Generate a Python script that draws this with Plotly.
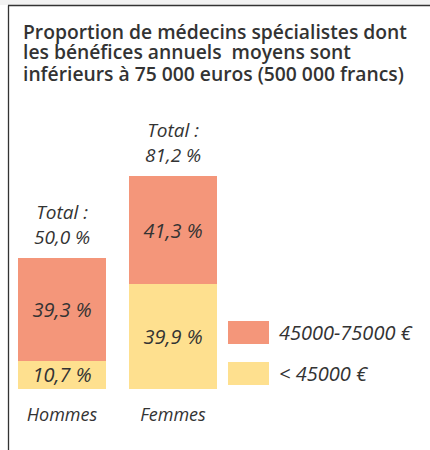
import plotly.graph_objects as go

categories = ["Hommes", "Femmes"]
series_names = ["< 45000 €", "45000-75000 €"]
low_values = [10.7, 39.9]
mid_values = [39.3, 41.3]
totals = [50.0, 81.2]
colors = ["#FEE08F", "#F4967A"]
title_lines = [
    "Proportion de médecins spécialistes dont",
    "les bénéfices annuels  moyens sont",
    "inférieurs à 75 000 euros (500 000 francs)",
]

W, H = 430, 450
FONT = "Open Sans"
TXT = "#333333"

def fr(v):
    return f"{v:.1f}".replace(".", ",") + " %"

fig = go.Figure()
for name, vals, col in zip(series_names, [low_values, mid_values], colors):
    fig.add_trace(go.Bar(
        x=categories, y=vals, name=name, marker=dict(color=col, line=dict(width=0)),
        width=0.79, text=[fr(v) for v in vals], textposition="inside",
        insidetextanchor="middle", textangle=0, constraintext="none",
        textfont=dict(family=FONT, size=20, color=TXT, style="italic"),
        showlegend=False, hoverinfo="skip",
    ))

annotations = []
for c, t in zip(categories, totals):
    annotations.append(dict(
        x=c, y=t, xref="x", yref="y", text="Total :<br>" + fr(t),
        showarrow=False, yanchor="bottom", yshift=6,
        font=dict(family=FONT, size=19, color=TXT, style="italic"),
    ))

for i, line in enumerate(title_lines):
    annotations.append(dict(
        x=21 / W, y=1 - (31 + 21 * i) / H, xref="paper", yref="paper", text=line,
        showarrow=False, xanchor="left", yanchor="middle",
        font=dict(family=FONT, size=19.3, color=TXT, weight=600),
    ))

shapes = [
    dict(type="rect", xref="paper", yref="paper", x0=0, x1=1, y0=1 - 5 / H, y1=1,
         fillcolor="#f2f2f2", line=dict(width=0), layer="below"),
    dict(type="line", xref="paper", yref="paper", x0=8 / W, x1=1, y0=1 - 5.5 / H, y1=1 - 5.5 / H,
         line=dict(color="#333333", width=1.3)),
    dict(type="line", xref="paper", yref="paper", x0=8.5 / W, x1=8.5 / W, y0=0, y1=1 - 5.5 / H,
         line=dict(color="#333333", width=1.3)),
]

# legend (top item = upper segment)
leg_items = list(zip(series_names, colors))[::-1]
leg_tops = [321, 362]
for (name, col), top in zip(leg_items, leg_tops):
    shapes.append(dict(type="rect", xref="paper", yref="paper",
                       x0=228 / W, x1=269 / W, y0=1 - (top + 23) / H, y1=1 - top / H,
                       fillcolor=col, line=dict(width=0)))
    annotations.append(dict(
        x=277 / W, y=1 - (top + 11.5) / H, xref="paper", yref="paper", text=name,
        showarrow=False, xanchor="left", yanchor="middle",
        font=dict(family=FONT, size=20, color=TXT, style="italic"),
    ))

base_px = 389
scale = 2.62
fig.update_layout(
    width=W, height=H, barmode="stack",
    margin=dict(l=0, r=0, t=0, b=0, autoexpand=False),
    paper_bgcolor="white", plot_bgcolor="white",
    showlegend=False,
    xaxis=dict(domain=[6.5 / W, 228.5 / W], range=[-0.5, 1.5], showgrid=False, zeroline=False,
               showline=False, ticks="outside", ticklen=9, tickcolor="rgba(0,0,0,0)",
               automargin=False,
               tickfont=dict(family=FONT, size=18, color=TXT, style="italic")),
    yaxis=dict(domain=[(H - base_px) / H, 1], range=[0, base_px / scale], visible=False,
               automargin=False),
    shapes=shapes, annotations=annotations,
)

fig.write_html("out.html", config={"displayModeBar": False},
               post_script="document.body.style.margin='0';document.body.style.overflow='hidden';")
